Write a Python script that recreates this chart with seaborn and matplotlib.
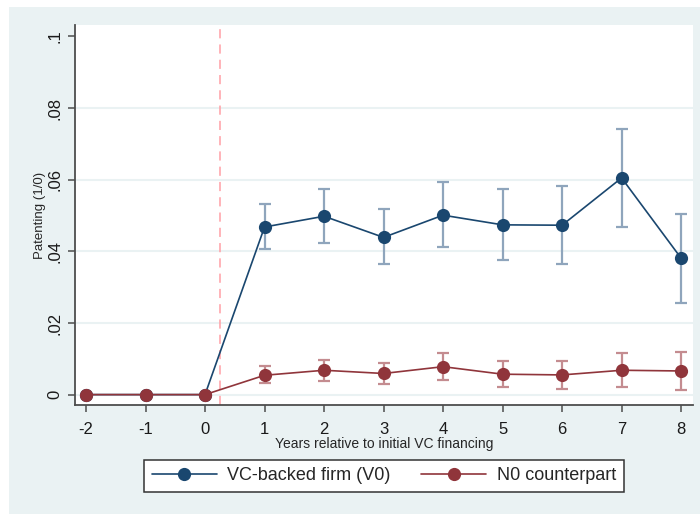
import matplotlib
matplotlib.use("Agg")
import matplotlib.pyplot as plt
from matplotlib.patches import Rectangle
import numpy as np
import pandas as pd
import seaborn as sns

# Event-time axis
years = [-2, -1, 0, 1, 2, 3, 4, 5, 6, 7, 8]

# VC-backed firms: mean patenting and 95% CI bounds
vc_mean = [0, 0, 0, 0.0468, 0.0498, 0.0439, 0.0501, 0.0474, 0.0473, 0.0605, 0.0381]
vc_lo = [np.nan, np.nan, np.nan, 0.0406, 0.0424, 0.0364, 0.0411, 0.0375, 0.0364, 0.0468, 0.0256]
vc_hi = [np.nan, np.nan, np.nan, 0.0532, 0.0573, 0.0517, 0.0593, 0.0574, 0.0583, 0.0742, 0.0503]

# Non-VC counterparts
n0_mean = [0, 0, 0, 0.0054, 0.0068, 0.0059, 0.0078, 0.0057, 0.0055, 0.0068, 0.0066]
n0_lo = [np.nan, np.nan, np.nan, 0.0032, 0.0039, 0.0029, 0.0040, 0.0022, 0.0017, 0.0021, 0.0013]
n0_hi = [np.nan, np.nan, np.nan, 0.0080, 0.0096, 0.0089, 0.0115, 0.0094, 0.0094, 0.0115, 0.0119]

labels = ["VC-backed firm (V0)", "N0 counterpart"]
y_ticks = [0, 0.02, 0.04, 0.06, 0.08, 0.1]
y_ticklabels = ["0", ".02", ".04", ".06", ".08", ".1"]

navy = "#1A476F"
maroon = "#90353B"

df = pd.concat([
    pd.DataFrame({"year": years, "value": vc_mean, "lo": vc_lo, "hi": vc_hi, "group": labels[0]}),
    pd.DataFrame({"year": years, "value": n0_mean, "lo": n0_lo, "hi": n0_hi, "group": labels[1]}),
])

sns.set_theme(style="white")
plt.rcParams["font.family"] = ["Liberation Sans", "DejaVu Sans"]

fig = plt.figure(figsize=(7.0, 5.14), dpi=100, facecolor="white")
# Light graph-region background behind the plot area
fig.patches.append(Rectangle((9 / 700, 0), 1 - 9 / 700, 1 - 7 / 514,
                             transform=fig.transFigure, facecolor="#EAF2F3",
                             edgecolor="none", zorder=-10))
ax = fig.add_axes([75 / 700, (514 - 405) / 514, (693 - 75) / 700, (405 - 25) / 514])
ax.set_zorder(1)
ax.set_facecolor("white")

# Confidence intervals
ci_colors = {labels[0]: "#8FA5BC", labels[1]: "#C48C90"}
for g, sub in df.groupby("group", sort=False):
    sub = sub.dropna(subset=["lo"])
    ax.errorbar(sub["year"], sub["value"],
                yerr=[sub["value"] - sub["lo"], sub["hi"] - sub["value"]],
                fmt="none", ecolor=ci_colors[g], elinewidth=1.6, capsize=4.3,
                capthick=1.6, zorder=2)

sns.lineplot(data=df, x="year", y="value", hue="group", hue_order=labels,
             palette=[navy, maroon], marker="o", markersize=9.5,
             markeredgewidth=0, linewidth=1.2, ax=ax, legend=False, zorder=3,
             estimator=None)

ax.axvline(0.25, color="#FF9FA5", linestyle=(0, (6, 4)), linewidth=1.1, zorder=1)

ax.set_xlim(-2.185, 8.2)
ax.set_ylim(-0.0029, 0.1032)
ax.set_yticks(y_ticks)
ax.set_yticklabels(y_ticklabels, rotation=90, va="center", fontsize=12)
ax.set_xticks(years)
ax.set_xticklabels([str(y) for y in years], fontsize=12)
ax.grid(axis="y", color="#EAF2F3", linewidth=1.5)
ax.get_ygridlines()[-1].set_visible(False)
ax.set_axisbelow(True)

for side in ["top", "right"]:
    ax.spines[side].set_visible(False)
for side in ["left", "bottom"]:
    ax.spines[side].set_color("#4D4D4D")
    ax.spines[side].set_linewidth(1.3)
ax.tick_params(axis="both", direction="out", length=5, width=1.1, color="#4D4D4D",
               colors="#1a1a1a", left=True, bottom=True)
ax.tick_params(axis="x", pad=7)
ax.tick_params(axis="y", pad=4)

ax.set_xlabel("Years relative to initial VC financing", fontsize=10, labelpad=0)
ax.set_ylabel("Patenting (1/0)", fontsize=9.5, labelpad=1)

handles = [
    plt.Line2D([], [], color=navy, marker="o", markersize=9.5, linewidth=1.2, markeredgewidth=0),
    plt.Line2D([], [], color=maroon, marker="o", markersize=9.5, linewidth=1.2, markeredgewidth=0),
]
leg = fig.legend(handles, labels, loc="center", ncol=2,
                 bbox_to_anchor=(384 / 700, 1 - 476 / 514), fontsize=13,
                 frameon=True, fancybox=False, edgecolor="#333333",
                 handlelength=3.6, columnspacing=1.7, handletextpad=0.6,
                 borderpad=0.4)
leg.get_frame().set_linewidth(1.1)
leg.get_frame().set_facecolor("white")
leg.get_frame().set_alpha(1.0)

fig.savefig("out.png", dpi=100, facecolor=fig.get_facecolor())
